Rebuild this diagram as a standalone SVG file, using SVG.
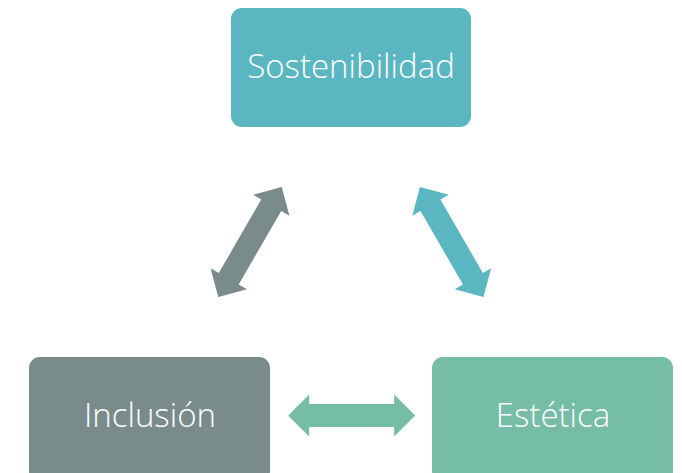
<svg xmlns="http://www.w3.org/2000/svg" width="682" height="473" viewBox="0 0 682 473">
<defs>
<style>
.lbl{font-family:"Open Sans","Noto Sans","Liberation Sans",sans-serif;font-weight:300;font-size:33px;fill:#ffffff;text-anchor:middle}
</style>
<path id="arr" d="M -63.5 0 L -42.5 -21 L -42.5 -11.5 L 42.5 -11.5 L 42.5 -21 L 63.5 0 L 42.5 21 L 42.5 11.5 L -42.5 11.5 L -42.5 21 Z"/>
</defs>
<rect width="682" height="473" fill="#ffffff"/>
<g id="connectors">
<use href="#arr" fill="#7A8B8C" transform="translate(250,242) rotate(-60)"/>
<use href="#arr" fill="#5AB6C0" transform="translate(451.7,242) rotate(60)"/>
<use href="#arr" fill="#75BDA6" transform="translate(351.7,415.5)"/>
</g>
<g id="sostenibilidad">
<rect x="231" y="8" width="240" height="119" rx="11" fill="#5AB6C0"/>
<text class="lbl" x="351" y="78">Sostenibilidad</text>
</g>
<g id="inclusion">
<rect x="29" y="357" width="241" height="125" rx="11" fill="#7A8B8C"/>
<text class="lbl" x="150" y="427">Inclusión</text>
</g>
<g id="estetica">
<rect x="432" y="357" width="241" height="125" rx="11" fill="#75BDA6"/>
<text class="lbl" x="553" y="427">Estética</text>
</g>
</svg>
